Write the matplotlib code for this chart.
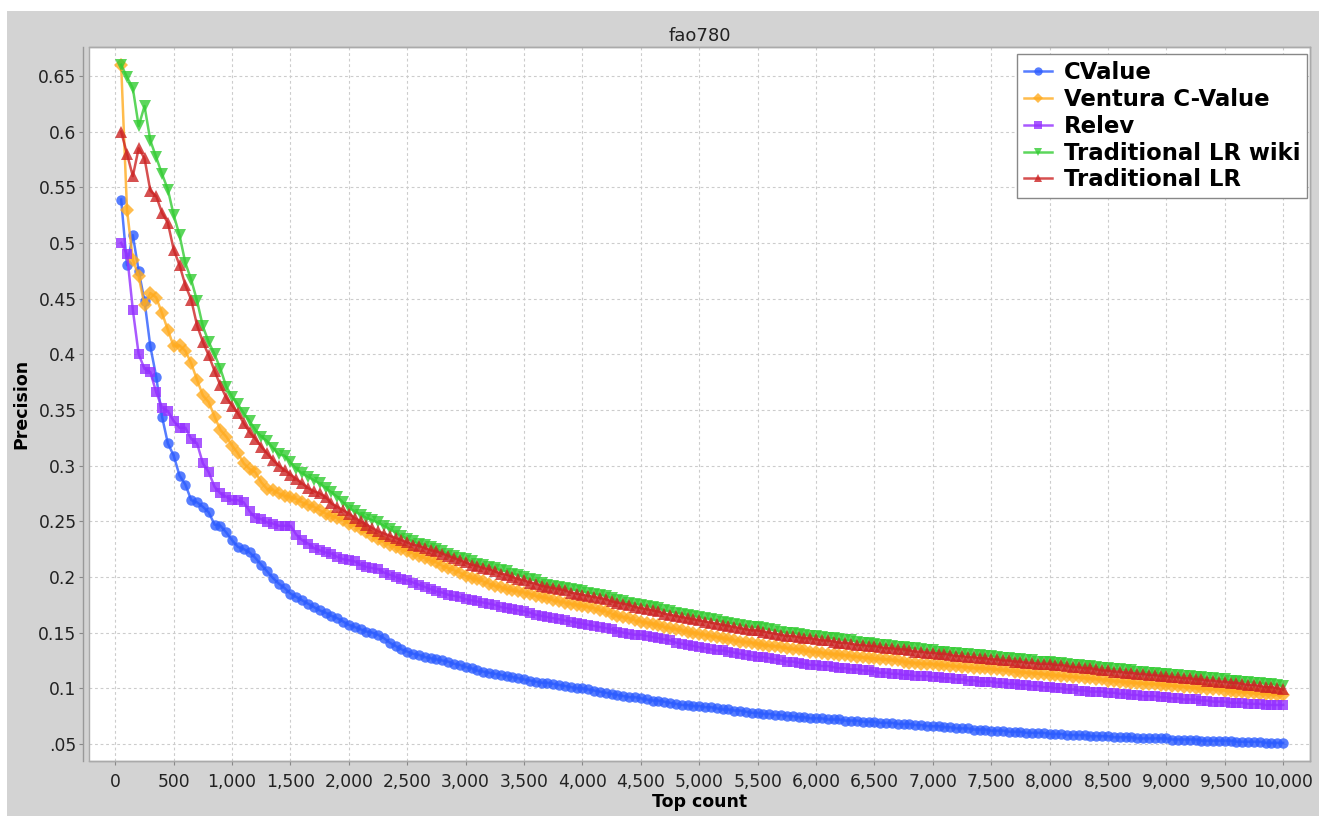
import matplotlib
matplotlib.use("Agg")
import matplotlib.pyplot as plt
from matplotlib.patches import Rectangle
from matplotlib.ticker import FixedLocator

# Data: precision at every 50 terms, from 50 to 10000
top_count = list(range(50, 10001, 50))

cvalue = [
    .539, .480, .507, .475, .448, .407, .380, .344, .320, .309,
    .291, .283, .269, .267, .263, .258, .247, .246, .240, .233,
    .227, .225, .222, .217, .211, .205, .199, .194, .190, .185,
    .182, .179, .176, .173, .170, .168, .165, .163, .160, .157,
    .155, .153, .151, .150, .148, .145, .141, .138, .135, .133,
    .131, .130, .128, .127, .126, .125, .124, .122, .121, .119,
    .118, .116, .115, .114, .113, .112, .111, .110, .109, .108,
    .107, .106, .105, .105, .104, .103, .102, .101, .100, .100,
    .099, .098, .097, .096, .095, .094, .093, .092, .092, .091,
    .090, .089, .089, .088, .087, .086, .085, .085, .084, .084,
    .083, .083, .082, .081, .081, .080, .080, .079, .078, .078,
    .077, .077, .076, .076, .075, .075, .074, .074, .073, .073,
    .073, .072, .072, .072, .071, .071, .071, .070, .070, .070,
    .069, .069, .069, .068, .068, .068, .067, .067, .066, .066,
    .066, .065, .065, .064, .064, .064, .063, .063, .063, .062,
    .062, .062, .061, .061, .061, .060, .060, .060, .060, .059,
    .059, .059, .058, .058, .058, .058, .057, .057, .057, .057,
    .056, .056, .056, .056, .055, .055, .055, .055, .055, .055,
    .054, .054, .054, .054, .054, .053, .053, .053, .053, .053,
    .053, .052, .052, .052, .052, .052, .051, .051, .051, .051,
]

ventura = [
    .660, .530, .485, .470, .444, .455, .451, .437, .422, .407,
    .408, .403, .392, .377, .363, .357, .344, .332, .326, .318,
    .311, .302, .297, .294, .285, .279, .278, .275, .273, .272,
    .270, .267, .265, .263, .260, .257, .255, .253, .251, .248,
    .246, .243, .240, .237, .234, .231, .229, .227, .225, .223,
    .221, .219, .217, .215, .213, .210, .208, .206, .204, .201,
    .199, .198, .196, .194, .192, .191, .189, .188, .187, .186,
    .185, .183, .182, .181, .179, .178, .177, .176, .175, .174,
    .173, .172, .170, .169, .167, .165, .164, .163, .161, .160,
    .159, .158, .157, .155, .154, .153, .152, .151, .150, .149,
    .148, .147, .146, .145, .144, .143, .142, .142, .141, .140,
    .139, .138, .138, .137, .136, .135, .135, .134, .133, .133,
    .132, .131, .131, .130, .130, .129, .128, .128, .127, .127,
    .126, .126, .125, .125, .124, .123, .123, .122, .122, .122,
    .121, .121, .120, .120, .119, .119, .118, .118, .118, .117,
    .117, .116, .116, .115, .115, .114, .114, .113, .113, .112,
    .112, .111, .111, .110, .110, .109, .109, .108, .108, .107,
    .107, .106, .106, .105, .105, .104, .104, .104, .103, .103,
    .102, .102, .101, .101, .100, .100, .099, .099, .099, .098,
    .098, .097, .097, .096, .096, .095, .095, .095, .094, .094,
]

relev = [
    .500, .490, .440, .400, .387, .384, .366, .352, .349, .340,
    .334, .334, .324, .320, .302, .294, .281, .275, .272, .269,
    .269, .267, .259, .253, .252, .249, .248, .246, .246, .246,
    .238, .233, .230, .226, .224, .222, .221, .218, .216, .215,
    .214, .211, .209, .208, .207, .204, .202, .200, .198, .197,
    .195, .193, .191, .189, .187, .186, .184, .183, .182, .180,
    .179, .178, .177, .176, .175, .173, .172, .171, .170, .169,
    .168, .166, .165, .164, .163, .162, .161, .160, .159, .158,
    .157, .156, .155, .154, .153, .151, .150, .149, .148, .148,
    .147, .146, .145, .144, .143, .141, .140, .139, .138, .137,
    .136, .135, .134, .134, .133, .132, .131, .130, .129, .128,
    .128, .127, .126, .125, .124, .124, .123, .122, .121, .121,
    .120, .120, .119, .118, .118, .117, .117, .116, .116, .115,
    .114, .114, .113, .113, .112, .112, .111, .111, .111, .110,
    .110, .109, .109, .108, .108, .107, .107, .106, .106, .106,
    .105, .105, .104, .104, .103, .103, .102, .102, .101, .101,
    .100, .100, .099, .099, .098, .098, .097, .097, .097, .096,
    .096, .095, .095, .094, .094, .093, .093, .093, .092, .092,
    .091, .091, .090, .090, .090, .089, .089, .088, .088, .088,
    .087, .087, .087, .086, .086, .086, .085, .085, .085, .085,
]

lr_wiki = [
    .660, .649, .639, .605, .623, .592, .577, .562, .548, .525,
    .507, .482, .467, .448, .425, .411, .400, .387, .371, .362,
    .355, .347, .340, .332, .326, .322, .316, .310, .309, .303,
    .297, .293, .290, .287, .284, .280, .276, .272, .267, .262,
    .259, .256, .253, .251, .249, .246, .243, .240, .237, .234,
    .232, .230, .229, .227, .225, .223, .221, .219, .217, .216,
    .214, .212, .211, .209, .208, .206, .205, .203, .202, .200,
    .198, .197, .195, .193, .192, .191, .190, .189, .188, .187,
    .186, .185, .184, .183, .181, .179, .178, .177, .176, .175,
    .174, .173, .172, .170, .169, .168, .167, .166, .165, .164,
    .163, .162, .161, .160, .159, .158, .157, .156, .155, .155,
    .154, .153, .152, .151, .150, .150, .149, .148, .147, .147,
    .146, .145, .145, .144, .143, .143, .142, .141, .141, .140,
    .139, .139, .138, .137, .137, .136, .136, .135, .134, .134,
    .133, .133, .132, .132, .131, .131, .130, .130, .129, .129,
    .128, .127, .127, .126, .126, .125, .125, .124, .124, .124,
    .123, .123, .122, .121, .121, .120, .120, .119, .118, .118,
    .117, .117, .116, .116, .115, .115, .114, .114, .113, .113,
    .112, .112, .111, .111, .110, .110, .109, .109, .108, .108,
    .107, .107, .106, .106, .105, .105, .104, .104, .103, .102,
]

lr = [
    .600, .580, .560, .585, .576, .547, .542, .527, .518, .494,
    .480, .462, .449, .426, .411, .399, .385, .372, .361, .354,
    .347, .338, .330, .324, .317, .311, .305, .300, .296, .292,
    .288, .284, .280, .277, .275, .272, .266, .263, .260, .257,
    .253, .250, .247, .244, .241, .239, .237, .235, .233, .231,
    .229, .228, .226, .224, .223, .221, .219, .217, .215, .213,
    .211, .210, .208, .207, .205, .203, .202, .200, .198, .197,
    .195, .194, .192, .191, .190, .189, .188, .186, .185, .184,
    .183, .182, .181, .180, .178, .177, .176, .175, .173, .172,
    .171, .170, .169, .167, .166, .165, .164, .163, .162, .161,
    .160, .159, .158, .157, .156, .155, .154, .153, .152, .152,
    .151, .150, .149, .148, .147, .147, .146, .145, .145, .144,
    .143, .143, .142, .141, .141, .140, .139, .139, .138, .138,
    .137, .136, .136, .135, .135, .134, .133, .133, .132, .132,
    .131, .131, .130, .129, .129, .128, .128, .127, .127, .126,
    .126, .125, .125, .124, .124, .123, .123, .122, .122, .122,
    .121, .121, .120, .119, .119, .118, .118, .117, .116, .116,
    .115, .115, .114, .114, .113, .113, .112, .112, .111, .111,
    .110, .110, .109, .109, .108, .108, .107, .107, .106, .106,
    .105, .105, .104, .103, .103, .102, .101, .101, .100, .099,
]

series_names = ["CValue", "Ventura C-Value", "Relev", "Traditional LR wiki", "Traditional LR"]

x_ticks = list(range(0, 10001, 500))
x_labels = [f"{t:,}" for t in x_ticks]
y_ticks = [0.05, 0.1, 0.15, 0.2, 0.25, 0.3, 0.35, 0.4, 0.45, 0.5, 0.55, 0.6, 0.65]
y_labels = [".05", "0.1", "0.15", "0.2", "0.25", "0.3", "0.35", "0.4",
            "0.45", "0.5", "0.55", "0.6", "0.65"]

plt.rcParams['font.family'] = ['DejaVu Sans']

fig = plt.figure(figsize=(13.19, 8.16), dpi=100, facecolor="white")
# gray chart background (JFreeChart style)
fig.patches.append(Rectangle((0.0053, 0), 1, 0.9865, transform=fig.transFigure,
                             facecolor="#d3d3d3", edgecolor="none", zorder=-10))

ax = fig.add_axes([0.0675, 0.0678, 0.9257, 0.8746])
ax.set_facecolor("white")

styles = [
    ("#2c5cff", "o", 7.5),
    ("#ffab1f", "D", 6.8),
    ("#9430ff", "s", 6.8),
    ("#33cc33", "v", 8.0),
    ("#cc2424", "^", 8.0),
]
all_series = [cvalue, ventura, relev, lr_wiki, lr]
for vals, name, (col, mk, ms) in zip(all_series, series_names, styles):
    ax.plot(top_count, vals, color=col, marker=mk, markersize=ms, lw=1.8,
            alpha=0.8, markeredgewidth=0, label=name)

ax.set_xlim(-225, 10230)
ax.set_ylim(0.035, 0.676)

ax.xaxis.set_major_locator(FixedLocator(x_ticks))
ax.set_xticklabels(x_labels)
ax.yaxis.set_major_locator(FixedLocator(y_ticks))
ax.set_yticklabels(y_labels)
ax.tick_params(axis="both", labelsize=12.3, length=3, color="#888888",
               labelcolor="#222222")
ax.tick_params(axis="x", pad=6)
ax.tick_params(axis="y", pad=2)

ax.grid(True, color="#cccccc", linestyle=(0, (2.5, 2.5)), lw=0.8)
ax.set_axisbelow(True)

for s in ax.spines.values():
    s.set_color("#999999")
    s.set_linewidth(1)
ax.spines["left"].set_position(("outward", 4))
ax.add_patch(Rectangle((0, 0), 1, 1, transform=ax.transAxes, fill=False,
                       edgecolor="#aaaaaa", lw=1, clip_on=False, zorder=5))

fig.text(0.5303, 0.956, "fao780", ha="center", va="center", fontsize=13, color="#222222")
ax.set_xlabel("Top count", fontsize=12.5, fontweight="bold", labelpad=1)
ax.set_ylabel("Precision", fontsize=12.5, fontweight="bold", labelpad=6)

leg = ax.legend(loc="upper right", bbox_to_anchor=(0.9975, 0.990), borderaxespad=0,
                prop={"size": 16.4, "weight": "bold"}, handlelength=1.25,
                handletextpad=0.5, labelspacing=0.17, borderpad=0.3,
                markerscale=0.8, fancybox=False, framealpha=1, edgecolor="#888888")
leg.get_frame().set_linewidth(1)

fig.savefig("out.png", dpi=100, facecolor=fig.get_facecolor())
